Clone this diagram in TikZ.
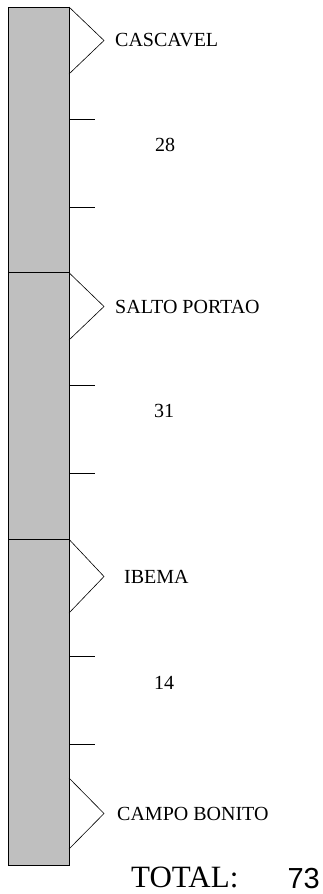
\documentclass[tikz,border=0pt]{standalone}
\usepackage{fontspec}
\setmainfont{Liberation Serif}
\newfontfamily\arialf{Liberation Sans}
\begin{document}
\begin{tikzpicture}[x=1pt,y=-1pt,
  bar/.style={fill=black!25,draw=black,line width=0.9pt},
  divider/.style={draw=black,line width=1.3pt},
  chev/.style={draw=black,line width=0.6pt},
  tick/.style={draw=black,line width=1pt},
  lbl/.style={font=\fontsize{20}{22}\selectfont,anchor=west,inner sep=0pt},
  num/.style={font=\fontsize{20}{22}\selectfont,inner sep=0pt},
  tot/.style={font=\fontsize{31}{34}\selectfont,inner sep=0pt}]
\useasboundingbox (0,0) rectangle (323,894);
% bar
\coordinate (tl) at (8.5,7);
\coordinate (br) at (69,865);
\draw[bar] (tl) rectangle (br);
\coordinate (d1l) at (8.5,272.7); \coordinate (d1r) at (69,272.7);
\coordinate (d2l) at (8.5,539.3); \coordinate (d2r) at (69,539.3);
\draw[divider] (d1l) -- (d1r);
\draw[divider] (d2l) -- (d2r);
% chevrons
\coordinate (c1a) at (69,7);     \coordinate (c1t) at (104,40.5);  \coordinate (c1b) at (69,74);
\coordinate (c2a) at (69,272.7); \coordinate (c2t) at (104,306.5); \coordinate (c2b) at (69,340);
\coordinate (c3a) at (69,539.3); \coordinate (c3t) at (104,576.5); \coordinate (c3b) at (69,613);
\coordinate (c4a) at (69,778);   \coordinate (c4t) at (104,813.5); \coordinate (c4b) at (69,849);
\draw[chev] (c1a) -- (c1t) -- (c1b);
\draw[chev] (c2a) -- (c2t) -- (c2b);
\draw[chev] (c3a) -- (c3t) -- (c3b);
\draw[chev] (c4a) -- (c4t) -- (c4b);
% ticks
\foreach \i/\y in {1/119.3,2/207.3,3/385,4/473,5/656.7,6/744}{
  \coordinate (t\i a) at (69,\y); \coordinate (t\i b) at (94.5,\y);
  \draw[tick] (t\i a) -- (t\i b);
}
% labels
\node[lbl] (cascavel) at (115,40.5) {CASCAVEL};
\node[lbl] (salto) at (115,306.5) {SALTO PORTAO};
\node[lbl] (ibema) at (124,576.5) {IBEMA};
\node[lbl] (campo) at (117,813.5) {CAMPO BONITO};
\node[num] (n28) at (165,145) {28};
\node[num] (n31) at (164,411) {31};
\node[num] (n14) at (164,683) {14};
\node[tot,anchor=west] (total) at (131,877) {TOTAL:};
\node[tot,anchor=east,font=\arialf\fontsize{29}{32}\selectfont] (n73) at (320,879) {73};
\end{tikzpicture}
\end{document}
